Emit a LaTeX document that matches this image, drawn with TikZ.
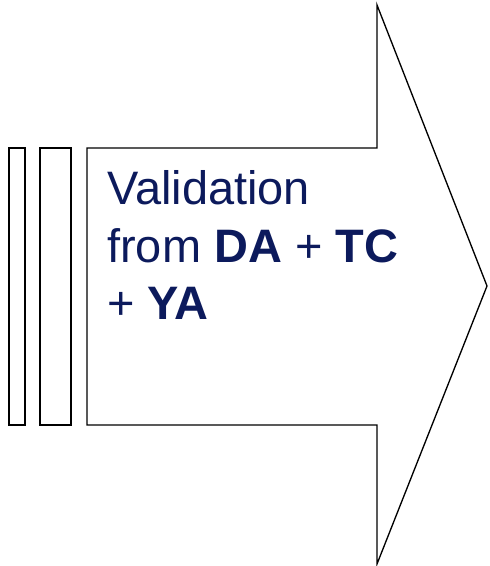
\documentclass[tikz,border=0pt]{standalone}
\usepackage{fontspec}
\setmainfont{Liberation Sans}
\usetikzlibrary{positioning}
\definecolor{navytext}{RGB}{12,26,92}
\tikzset{
  outline/.style={draw=black,line width=1pt},
  label/.style={anchor=base west,inner sep=0pt,text=navytext,font=\fontsize{35.2}{42}\selectfont}
}
\begin{document}
\begin{tikzpicture}[x=0.75pt,y=-0.75pt]
        \useasboundingbox (0,0) rectangle (489,566);
        % Side bars
        \draw[outline] (9,148) rectangle (25,425);
        \draw[outline] (40,148) rectangle (71,425);
        % Arrow
        \draw[outline,line join=miter] (87,148) -- (377,148) -- (377,5) -- (487,286)
            -- (377,564) -- (377,425) -- (87,425) -- cycle;
        % Text
        \node[label] (line1) at (107,205) {Validation};
        \node[label] (line2) at (107,262) {from \textbf{DA} + \textbf{TC}};
        \node[label] (line3) at (107,319) {+ \textbf{YA}};
    \end{tikzpicture}
\end{document}
